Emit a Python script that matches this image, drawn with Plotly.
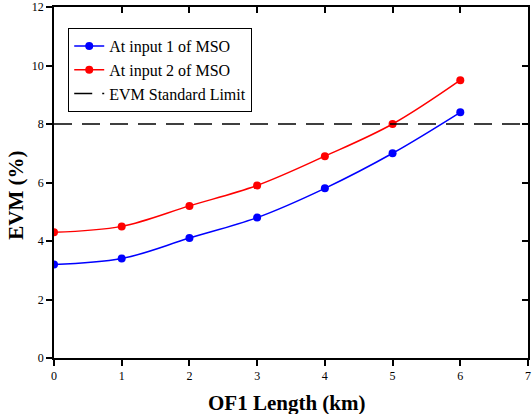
import plotly.graph_objects as go

fiber_km = [0, 1, 2, 3, 4, 5, 6]
evm_input1 = [3.2, 3.4, 4.1, 4.8, 5.8, 7.0, 8.4]
evm_input2 = [4.3, 4.5, 5.2, 5.9, 6.9, 8.0, 9.5]
limit_x = [0, 7]
limit_y = [8, 8]

serif = "Liberation Serif"

fig = go.Figure()
fig.add_trace(go.Scatter(x=fiber_km, y=evm_input1, name="At input 1 of MSO",
                         mode="lines+markers", line=dict(color="#0000ff", width=1.5, shape="spline"),
                         marker=dict(size=8, color="#0000ff")))
fig.add_trace(go.Scatter(x=fiber_km, y=evm_input2, name="At input 2 of MSO",
                         mode="lines+markers", line=dict(color="#ff0000", width=1.5, shape="spline"),
                         marker=dict(size=8, color="#ff0000")))
fig.add_trace(go.Scatter(x=limit_x, y=limit_y, name="EVM Standard Limit", mode="lines",
                         line=dict(color="black", width=1.5, dash="18px,10px")))

axis_common = dict(showgrid=False, zeroline=False, showline=True, linecolor="black",
                   linewidth=1.5, tickcolor="black", tickwidth=1.5, automargin=False,
                   tickfont=dict(family=serif, size=12, color="black"))

fig.update_layout(
    width=532, height=414,
    margin=dict(l=54, r=4, t=7, b=56),
    paper_bgcolor="white", plot_bgcolor="white",
    font=dict(family=serif, color="black"),
    xaxis=dict(range=[0, 7], dtick=1, ticks="outside", ticklen=6, **axis_common),
    yaxis=dict(range=[0, 12], dtick=2, ticks="outside", ticklen=6, **axis_common),
    xaxis2=dict(range=[0, 7], dtick=1, overlaying="x", side="top", ticks="inside",
                ticklen=6, showticklabels=False, **axis_common),
    yaxis2=dict(range=[0, 12], dtick=2, overlaying="y", side="right", ticks="inside",
                ticklen=6, showticklabels=False, **axis_common),
    legend=dict(x=0.03, y=0.94, xanchor="left", yanchor="top",
                bordercolor="black", borderwidth=1, bgcolor="white",
                font=dict(family=serif, size=16, color="black"),
                tracegroupgap=0),
    showlegend=True,
)
fig.add_annotation(text="<b>OF1 Length (km)</b>", xref="paper", yref="paper",
                   x=0.491, y=-0.128, xanchor="center", yanchor="middle", showarrow=False,
                   font=dict(family=serif, size=21, color="black"))
fig.add_annotation(text="<b>EVM (%)</b>", xref="paper", yref="paper", textangle=-90,
                   x=-0.079, y=0.464, xanchor="center", yanchor="middle", showarrow=False,
                   font=dict(family=serif, size=21, color="black"))
# invisible trace so the mirrored top/right axes get drawn
fig.add_trace(go.Scatter(x=[0], y=[0], xaxis="x2", yaxis="y2", mode="markers",
                         marker=dict(opacity=0), showlegend=False, hoverinfo="skip"))

fig.write_html("out.html", config={"displayModeBar": False},
               post_script="document.body.style.margin='0';")
